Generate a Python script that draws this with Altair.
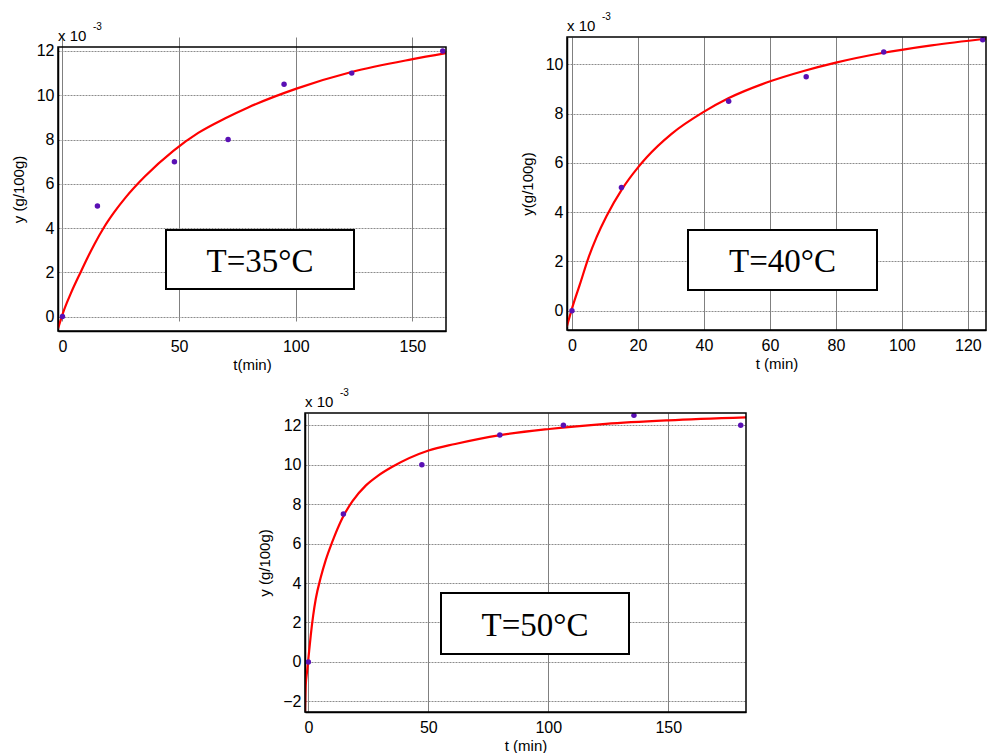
import altair as alt
import pandas as pd

# ---------------- data (y values in units of 1e-3 g/100g) ----------------
# T = 35 °C
t35 = [0, 15, 48, 71, 95, 124, 163]
y35 = [0, 5, 7, 8, 10.5, 11, 12]
fit_t35 = [-1.9, 0.7, 3.6, 7.9, 10.7, 13.6, 17.9, 22.2, 27.2, 35.3, 47.4, 58.2, 69.6, 79.6, 100.3, 123.9, 149.6, 164.4]
fit_y35 = [-0.55, 0.3, 1.05, 2.03, 2.65, 3.25, 4.05, 4.72, 5.4, 6.33, 7.48, 8.3, 8.95, 9.45, 10.3, 11.05, 11.62, 11.9]

# T = 40 °C
t40 = [0, 15, 47.5, 71, 94.5, 124.5]
y40 = [0, 5, 8.5, 9.5, 10.5, 11]
fit_t40 = [-1.6, 0.4, 2.4, 5, 7.5, 10.5, 15.1, 20.1, 22.6, 30.2, 39.8, 47.4, 59, 70.5, 80, 94, 109, 125.5]
fit_y40 = [-0.66, 0.26, 1.07, 2.15, 3.0, 3.85, 4.92, 5.83, 6.22, 7.18, 8.06, 8.62, 9.26, 9.74, 10.07, 10.46, 10.77, 11.04]

# T = 50 °C
t50 = [0, 14.6, 47.3, 79.8, 106.3, 135.7, 180.2]
y50 = [0, 7.5, 10, 11.5, 12, 12.5, 12]
fit_t50 = [-1.4, -1.1, -0.5, 0, 1.0, 2.0, 3.1, 5.2, 7.2, 10, 14.2, 18.4, 24, 28.8, 34.8, 50.1, 61.2, 80, 100.4, 124, 150, 182.4]
fit_y50 = [-2.6, -1.2, -0.45, 0.15, 1.35, 2.35, 3.2, 4.3, 5.15, 6.1, 7.3, 8.15, 8.95, 9.42, 9.88, 10.72, 11.05, 11.5, 11.81, 12.07, 12.25, 12.4]

labels = ["T=35°C", "T=40°C", "T=50°C"]
x_titles = ["t(min)", "t (min)", "t (min)"]
y_titles = ["y (g/100g)", "y(g/100g)", "y (g/100g)"]
x_ticks = [[0, 50, 100, 150], [0, 20, 40, 60, 80, 100, 120], [0, 50, 100, 150]]
y_ticks = [[0, 2, 4, 6, 8, 10, 12], [0, 2, 4, 6, 8, 10], [-2, 0, 2, 4, 6, 8, 10, 12]]
x_domains = [[-1.9, 164.4], [-1.5, 125.5], [-1.4, 182.4]]
y_domains = [[-0.65, 12.18], [-0.78, 11.11], [-2.54, 12.62]]

FONT = "Liberation Sans"


def panel(t, y, ft, fy, i, w, h, top, box):
    """top: pixel offset of the plot frame's top inside a view of height h."""
    xs = alt.Scale(domain=x_domains[i], nice=False, zero=False)
    ys = alt.Scale(domain=y_domains[i], nice=False, zero=False, range=[h, top])
    xax = alt.Axis(values=x_ticks[i], title=x_titles[i], grid=True, gridColor="#808080",
                   gridWidth=1, ticks=False, labelPadding=7, titlePadding=3)
    yax = alt.Axis(values=y_ticks[i], title=y_titles[i], grid=True, gridColor="#8c8c8c",
                   gridDash=[2, 1], gridWidth=1, ticks=False, labelPadding=4, titlePadding=10)

    pts = pd.DataFrame({"t": t, "y": y})
    fit = pd.DataFrame({"t": ft, "y": fy})
    lab = pd.DataFrame({"label": [labels[i]]})

    frame = alt.Chart(lab).mark_rect(fill="white", fillOpacity=0, stroke="black",
                                     strokeWidth=1.5).encode(
        x=alt.value(0), x2=alt.value(w), y=alt.value(top), y2=alt.value(h)
    )
    base_line = alt.Chart(fit).mark_line(color="#ff0000", strokeWidth=2.2, interpolate="monotone",
                                         clip=True).encode(
        x=alt.X("t:Q", scale=xs, axis=xax),
        y=alt.Y("y:Q", scale=ys, axis=yax),
    )
    dots = alt.Chart(pts).mark_circle(color="#5a10b4", opacity=1, size=30, clip=True).encode(
        x=alt.X("t:Q", scale=xs),
        y=alt.Y("y:Q", scale=ys),
    )
    x0, x1, y0, y1 = box
    rect = alt.Chart(lab).mark_rect(fill="white", stroke="black", strokeWidth=2).encode(
        x=alt.value(x0), x2=alt.value(x1), y=alt.value(top + y0), y2=alt.value(top + y1)
    )
    txt = alt.Chart(lab).mark_text(font="Liberation Serif", fontSize=33, color="black",
                                   align="center", baseline="middle").encode(
        x=alt.value((x0 + x1) / 2), y=alt.value(top + (y0 + y1) / 2 + 2), text="label:N"
    )
    sc = pd.DataFrame({"a": ["x 10"], "b": ["-3"]})
    mult = alt.Chart(sc).mark_text(font=FONT, fontSize=15, color="black", align="left",
                                   baseline="alphabetic").encode(
        x=alt.value(0), y=alt.value(top - 6), text="a:N"
    )
    sup = alt.Chart(sc).mark_text(font=FONT, fontSize=10, color="black", align="left",
                                  baseline="alphabetic").encode(
        x=alt.value(35), y=alt.value(top - 17), text="b:N"
    )
    return alt.layer(base_line, dots, frame, rect, txt, mult, sup).properties(width=w, height=h)


p1 = panel(t35, y35, fit_t35, fit_y35, 0, 388, 294, 10, (108, 296, 183, 242))
p2 = panel(t40, y40, fit_t40, fit_y40, 1, 419, 293, 0, (121, 310, 193, 253))
p3 = panel(t50, y50, fit_t50, fit_y50, 2, 441, 299, 0, (136, 324, 180, 241))

spacer = alt.Chart(pd.DataFrame({"a": [0]})).mark_point(opacity=0).encode(
    x=alt.value(0), y=alt.value(0)
).properties(width=179, height=10)

top_row = alt.hconcat(p1, p2, spacing=73)
bottom_row = alt.hconcat(spacer, p3, spacing=20)
chart = alt.vconcat(top_row, bottom_row, spacing=16).properties(
    padding={"left": 11, "top": 12, "right": 0, "bottom": 0},
    background="white",
).configure_view(
    stroke=None
).configure_axis(
    labelFont=FONT, titleFont=FONT, labelFontSize=16, titleFontSize=15,
    labelColor="black", titleColor="black", titleFontWeight="normal",
    domainColor="black", domainWidth=1.5,
)

chart.save("out.html", embed_options={"renderer": "svg", "actions": False})
